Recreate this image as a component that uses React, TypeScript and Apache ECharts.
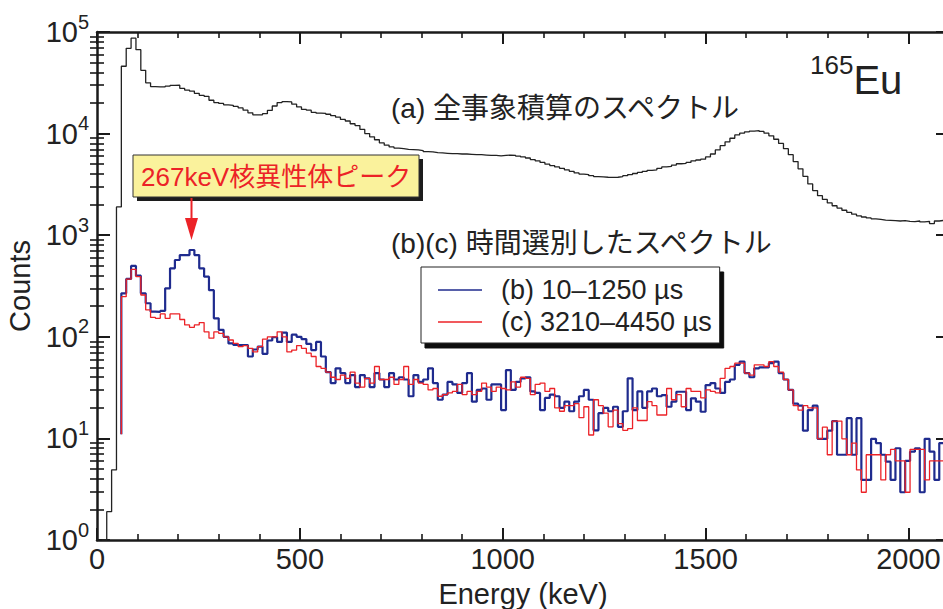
import React, { useEffect, useRef } from 'react';
import * as echarts from 'echarts';

// ---- data (12 keV histogram bins; value = counts in bin) ----
const BIN_WIDTH_KEV = 12;

// (a) all events, first bin index 1 (12-24 keV)
const A_FIRST_BIN = 1;
const A_COUNTS = [
  1, 1.9, 4.9, 1900, 46000, 69000, 87000, 67000, 42000, 31600,
  29000, 28800, 28800, 29300, 29800, 29900, 27900, 26800, 26200, 24900,
  23800, 23300, 21300, 20200, 19800, 19200, 19000, 18500, 17900, 17000,
  16000, 15300, 15300, 15700, 16900, 18700, 20200, 20600, 20500, 19500,
  18300, 17300, 17000, 16200, 15900, 15800, 15500, 15000, 14500, 13800,
  13300, 12500, 12000, 11000, 10000, 9300, 8700, 8100, 7700, 7400,
  7200, 7100, 7000, 6950, 6900, 6800, 6650, 6600, 6500, 6450,
  6400, 6350, 6350, 6300, 6300, 6250, 6200, 6200, 6150, 6100,
  6100, 6050, 6100, 6150, 6100, 6000, 5900, 5750, 5550, 5400,
  5200, 5000, 4850, 4700, 4550, 4400, 4250, 4100, 4000, 3950,
  3850, 3780, 3750, 3720, 3700, 3720, 3780, 3850, 3950, 4050,
  4150, 4250, 4350, 4400, 4550, 4700, 4750, 4900, 5050, 5100,
  5200, 5400, 5500, 5600, 5900, 6300, 6900, 7600, 8300, 9000,
  9700, 10100, 10400, 10600, 10700, 10500, 10100, 9500, 8800, 8000,
  7100, 6200, 5300, 4500, 3800, 3200, 2750, 2450, 2250, 2080,
  1950, 1850, 1760, 1680, 1610, 1550, 1510, 1480, 1450, 1430,
  1410, 1400, 1390, 1380, 1390, 1370, 1360, 1380, 1350, 1370,
  1300, 1380, 1400, 1380,
];

// (b),(c) time-gated, first bin index 5 (60-72 keV)
const BC_FIRST_BIN = 5;
const B_THRESHOLD_COUNT = 11;
const C_THRESHOLD_COUNT = 11;
const B_COUNTS = [
  268, 371, 498, 400, 268, 214, 177, 176, 180, 300,
  472, 570, 638, 638, 715, 638, 472, 391, 288, 152,
  117, 100, 86, 83, 83, 83, 64, 75, 80, 68,
  92, 99, 89, 110, 89, 105, 100, 95, 85, 74,
  89, 64, 45, 35, 49, 44, 35, 42, 32, 42,
  39, 32, 44, 38, 32, 44, 38, 40, 38, 26,
  42, 36, 38, 49, 35, 24, 27, 36, 34, 28,
  35, 44, 23, 30, 31, 24, 34, 34, 19, 47,
  30, 36, 39, 40, 29, 28, 19, 25, 27, 26,
  20, 23, 18.5, 23, 26, 30, 24, 12, 17.7, 20,
  18.5, 20.5, 13, 18.5, 39, 19, 29, 20, 29, 31,
  26, 26.7, 20.5, 23, 28.8, 28.8, 19, 24.8, 23, 18.3,
  33.5, 35, 31, 28, 36, 38, 53, 57, 44, 40,
  49, 50, 50, 55, 57, 44, 38, 30, 22, 21,
  11.9, 19, 21, 9.9, 9.9, 11.9, 14.8, 6.9, 6.9, 15.8,
  6.9, 15.8, 3.9, 3.9, 9.9, 9.0, 6.9, 5.9, 3.9, 8.0,
  2.95, 6.0, 7.4, 8.0, 2.95, 9.9, 7.4, 3.9, 9.0, 6.0,
];
const C_COUNTS = [
  248, 370, 461, 391, 258, 184, 155, 152, 168, 152,
  168, 168, 148, 131, 124, 131, 138, 112, 97, 112,
  108, 100, 93, 86, 80, 82, 77, 71, 80, 95,
  100, 100, 112, 100, 71, 74, 82, 77, 69, 64,
  51, 49, 45, 40, 38, 42, 39, 45, 35, 32,
  39, 35, 51, 38, 38, 40, 34, 38, 51, 34,
  38, 35, 34, 30, 31, 26, 27, 28, 29, 34,
  27, 29, 27, 29, 35, 32, 29, 32, 31, 30,
  36, 32, 40, 39, 27, 34, 35, 29, 31, 20,
  18.5, 21, 21, 22, 16, 20.5, 10.8, 24, 21, 17.7,
  13, 19, 14, 12, 12.5, 20, 15, 15, 23, 21,
  17, 17, 31, 24, 27, 20.5, 31, 29, 29, 25,
  30, 29, 28, 39, 49, 51, 55, 55, 44, 42,
  53, 53, 51, 57, 51, 45, 38, 30, 21, 19,
  21, 20, 20, 9.9, 12.9, 6.9, 14.8, 14.8, 9.9, 6.9,
  9.0, 4.9, 2.95, 6.9, 6.9, 6.9, 3.9, 6.9, 7.8, 6.0,
  6.0, 2.95, 7.8, 7.8, 7.8, 3.9, 6.0, 6.0, 6.0, 4.9,
];

const SERIES_NAMES = ['(a)', '(b) 10–1250 µs', '(c) 3210–4450 µs'];
const X_TICKS = [0, 500, 1000, 1500, 2000];
const Y_DECADES = [1, 10, 100, 1000, 10000, 100000];
const Y_MINOR_MULTIPLIERS = [2, 3, 4, 5, 6, 7, 8, 9];
const Y_MINOR = Y_DECADES.slice(0, -1).flatMap((d) => Y_MINOR_MULTIPLIERS.map((m) => m * d));

const X_MIN = 0;
const X_MAX = 2100;

function histogram(firstBin: number, counts: number[], threshold?: number) {
  const pts: number[][] = [];
  if (threshold != null) pts.push([firstBin * BIN_WIDTH_KEV, threshold]);
  counts.forEach((c, i) => pts.push([(firstBin + i) * BIN_WIDTH_KEV, c]));
  pts.push([(firstBin + counts.length) * BIN_WIDTH_KEV, counts[counts.length - 1]]);
  return pts;
}

const LATIN = '"Liberation Sans", Arial, Helvetica, sans-serif';
const CJK = '"Liberation Sans", "Noto Sans CJK JP", sans-serif';
const INK = '#1a1a1a';
const TEXT = '#222';
const RED = '#ec2227';
const BLUE = '#1f2b8e';

function xAxisCfg(position: 'top' | 'bottom', showLabel: boolean) {
  return {
    type: 'value',
    position,
    min: X_MIN,
    max: X_MAX,
    interval: 500,
    axisLine: { show: true, onZero: false, lineStyle: { color: INK, width: 2.5 } },
    axisTick: { show: true, inside: true, length: 12, customValues: X_TICKS, lineStyle: { color: INK, width: 2 } },
    minorTick: { show: true, splitNumber: 5, length: 6, lineStyle: { color: INK, width: 1.6 } },
    splitLine: { show: false },
    minorSplitLine: { show: false },
    axisLabel: showLabel
      ? {
          show: true,
          customValues: X_TICKS,
          formatter: (v: number) => String(v),
          fontSize: 29,
          fontFamily: LATIN,
          color: TEXT,
          margin: 4,
        }
      : { show: false },
    ...(showLabel
      ? {
          name: 'Energy (keV)',
          nameLocation: 'middle',
          nameGap: 39,
          nameTextStyle: { fontSize: 29, fontFamily: LATIN, color: TEXT },
        }
      : {}),
  };
}

function yAxisCfg(position: 'left' | 'right', kind: 'major' | 'minor', showLabel: boolean) {
  const major = kind === 'major';
  return {
    type: 'log',
    logBase: 10,
    position,
    min: 1,
    max: 100000,
    axisLine: major ? { show: true, onZero: false, lineStyle: { color: INK, width: 2.5 } } : { show: false },
    axisTick: {
      show: true,
      inside: true,
      length: major ? 13 : 7,
      customValues: major ? Y_DECADES : Y_MINOR,
      lineStyle: { color: INK, width: major ? 2 : 1.6 },
    },
    splitLine: { show: false },
    axisLabel: showLabel
      ? {
          show: true,
          customValues: Y_DECADES,
          margin: 8,
          formatter: (v: number) => `{b|10}{s|${Math.round(Math.log10(v))}}`,
          rich: {
            b: { fontSize: 29, fontFamily: LATIN, color: TEXT, lineHeight: 41 },
            s: { fontSize: 20, fontFamily: LATIN, color: TEXT, lineHeight: 20, verticalAlign: 'top' },
          },
        }
      : { show: false },
    ...(showLabel
      ? {
          name: 'Counts',
          nameLocation: 'middle',
          nameRotate: 90,
          nameGap: 60,
          nameTextStyle: { fontSize: 29, fontFamily: LATIN, color: TEXT },
        }
      : {}),
  };
}

function buildOption() {
  return {
    animation: false,
    backgroundColor: '#fff',
    grid: { left: 97, top: 32, width: 852, height: 508, outerBoundsMode: 'none' },
    xAxis: [xAxisCfg('bottom', true), xAxisCfg('top', false)],
    yAxis: [
      yAxisCfg('left', 'major', true),
      yAxisCfg('right', 'major', false),
      yAxisCfg('left', 'minor', false),
      yAxisCfg('right', 'minor', false),
    ],
    legend: {
      show: true,
      orient: 'vertical',
      left: 421,
      top: 267,
      data: [
        { name: SERIES_NAMES[1], icon: 'rect' },
        { name: SERIES_NAMES[2], icon: 'rect' },
      ],
      itemWidth: 44,
      itemHeight: 1.6,
      itemGap: 2,
      padding: [8, 8, 6, 17],
      backgroundColor: '#fff',
      borderColor: '#222',
      borderWidth: 1,
      borderRadius: 0,
      shadowColor: '#111',
      shadowBlur: 0,
      shadowOffsetX: 4,
      shadowOffsetY: 5,
      selectedMode: false,
      textStyle: { fontSize: 27, fontFamily: LATIN, color: TEXT, lineHeight: 30, padding: [0, 0, 0, 14] },
    },
    series: [
      {
        name: SERIES_NAMES[0],
        type: 'line',
        step: 'end',
        symbol: 'none',
        xAxisIndex: 0,
        yAxisIndex: 0,
        color: '#222',
        lineStyle: { color: '#222', width: 1.3 },
        data: histogram(A_FIRST_BIN, A_COUNTS),
        z: 2,
      },
      {
        name: SERIES_NAMES[1],
        type: 'line',
        step: 'end',
        symbol: 'none',
        xAxisIndex: 0,
        yAxisIndex: 0,
        color: BLUE,
        lineStyle: { color: BLUE, width: 2.2 },
        data: histogram(BC_FIRST_BIN, B_COUNTS, B_THRESHOLD_COUNT),
        z: 3,
      },
      {
        name: SERIES_NAMES[2],
        type: 'line',
        step: 'end',
        symbol: 'none',
        xAxisIndex: 0,
        yAxisIndex: 0,
        color: RED,
        lineStyle: { color: RED, width: 1.3 },
        data: histogram(BC_FIRST_BIN, C_COUNTS, C_THRESHOLD_COUNT),
        z: 4,
      },
    ],
    graphic: [
      {
        type: 'text',
        x: 391,
        y: 108,
        z: 20,
        style: { text: '(a) 全事象積算のスペクトル', fontSize: 28, fontFamily: CJK, fill: TEXT, align: 'left', verticalAlign: 'middle' },
      },
      {
        type: 'text',
        x: 391,
        y: 243,
        z: 20,
        style: { text: '(b)(c) 時間選別したスペクトル', fontSize: 28, fontFamily: CJK, fill: TEXT, align: 'left', verticalAlign: 'middle' },
      },
      {
        type: 'text',
        x: 810,
        y: 80,
        z: 20,
        style: {
          text: '{s|165}{b|Eu}',
          align: 'left',
          verticalAlign: 'middle',
          rich: {
            s: { fontSize: 26, fontFamily: LATIN, fill: TEXT, color: TEXT, lineHeight: 26, verticalAlign: 'top' },
            b: { fontSize: 40, fontFamily: LATIN, fill: TEXT, color: TEXT, lineHeight: 56 },
          },
        },
      },
      { type: 'rect', z: 20, shape: { x: 137, y: 159, width: 286, height: 42 }, style: { fill: '#1c1c1c' } },
      { type: 'rect', z: 21, shape: { x: 133, y: 155, width: 286, height: 42 }, style: { fill: '#faf29c', stroke: '#333', lineWidth: 1 } },
      {
        type: 'text',
        x: 141,
        y: 177,
        z: 22,
        style: { text: '267keV核異性体ピーク', fontSize: 26, fontFamily: CJK, fill: RED, align: 'left', verticalAlign: 'middle' },
      },
      { type: 'line', z: 22, shape: { x1: 191.5, y1: 198, x2: 191.5, y2: 222 }, style: { stroke: RED, lineWidth: 2 } },
      { type: 'polygon', z: 22, shape: { points: [[185, 218], [198, 218], [191.5, 240]] }, style: { fill: RED } },
    ],
  };
}

export default function App() {
  const ref = useRef<HTMLDivElement>(null);
  useEffect(() => {
    if (!ref.current) return;
    const chart = echarts.init(ref.current, null, { renderer: 'svg', width: 943, height: 609 });
    chart.setOption(buildOption() as any);
    return () => chart.dispose();
  }, []);
  return (
    <div
      ref={ref}
      style={{ position: 'fixed', left: 0, top: 0, width: 943, height: 609, background: '#fff', overflow: 'hidden' }}
    />
  );
}
